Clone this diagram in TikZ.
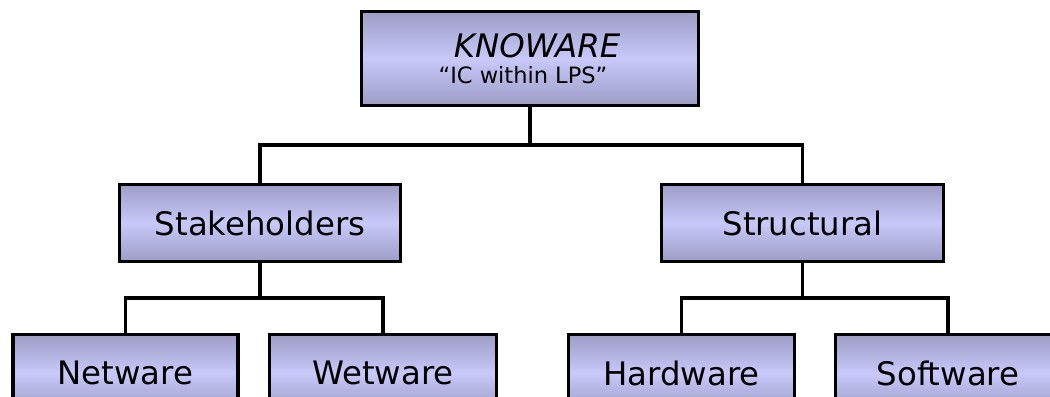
\documentclass[tikz,border=0pt]{standalone}
\usepackage{fontspec}
\setmainfont{DejaVu Sans}

\definecolor{boxedge}{RGB}{157,157,198}
\definecolor{boxmid}{RGB}{200,200,250}

\tikzset{
  orgbox/.style={draw=black, line width=2.4pt, top color=boxedge,
    bottom color=boxedge, middle color=boxmid, inner sep=0pt,
    font=\fontsize{23}{27}\selectfont},
  link/.style={line width=2.5pt}
}

\begin{document}
\begin{tikzpicture}[x=0.025cm, y=-0.025cm]

  % Fix the page to the size of the picture
  \clip (0,0) rectangle (1050,396);
  \fill[white] (0,0) rectangle (1050,396);

  % Define the junctions of the connectors
  \coordinate (j1) at (530,145);
  \coordinate (j2) at (260,298);
  \coordinate (j3) at (802.5,298);

  % Draw the connectors first, behind the boxes
  \draw[link] (530,58) -- (j1);
  \draw[link] (260,223) |- (j1) -| (802.5,223);
  \draw[link] (260,223) -- (j2);
  \draw[link] (125.5,373) |- (j2) -| (383,373);
  \draw[link] (802.5,223) -- (j3);
  \draw[link] (681.5,373) |- (j3) -| (948,373);

  % The top box
  \node[orgbox, minimum width=8.43cm, minimum height=2.35cm, align=center]
    (knoware) at (530,58.5)
    {\hspace*{10pt}{\itshape KNOWARE}\\[-9pt]{\fontsize{16}{17}\selectfont “IC within LPS”}\hspace*{10pt}};

  % The two middle boxes
  \node[orgbox, minimum width=7.03cm, minimum height=1.93cm] (stake) at (260,223) {Stakeholders};
  \node[orgbox, minimum width=7.05cm, minimum height=1.93cm] (struct) at (802.5,223) {Structural};

  % The four bottom boxes
  \node[orgbox, minimum width=5.63cm, minimum height=1.93cm] (net) at (125.5,373) {Netware};
  \node[orgbox, minimum width=5.68cm, minimum height=1.93cm] (wet) at (383,373) {Wetware};
  \node[orgbox, minimum width=5.65cm, minimum height=1.93cm] (hard) at (681.5,373) {Hardware};
  \node[orgbox, minimum width=5.63cm, minimum height=1.93cm] (soft) at (948,373) {Software};

\end{tikzpicture}
\end{document}
